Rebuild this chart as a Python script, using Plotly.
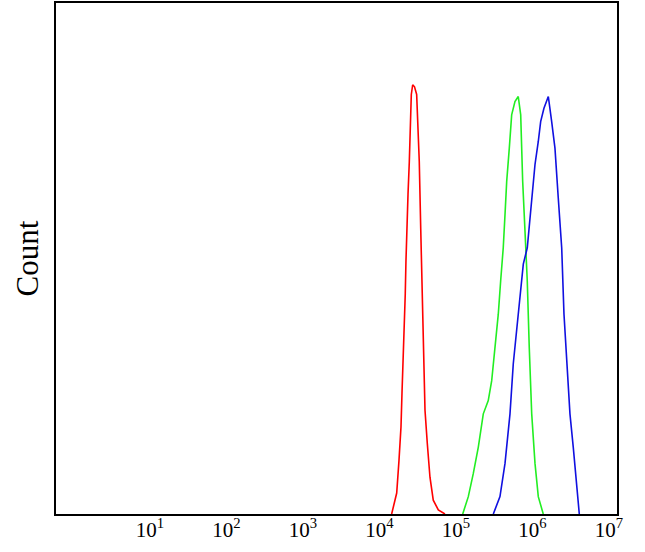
import plotly.graph_objects as go

# log10 fluorescence intensity and counts
red_log = [4.159, 4.225, 4.255, 4.281, 4.294, 4.311, 4.324, 4.337, 4.346, 4.356, 4.373, 4.390, 4.399,
           4.416, 4.434, 4.458, 4.486, 4.520, 4.539, 4.556, 4.573, 4.595, 4.625, 4.660, 4.703, 4.769, 4.856]
red_count = [0, 4.1, 10.5, 17.0, 23.6, 30.0, 36.5, 43.1, 49.5, 55.9, 62.6, 69.0, 75.4,
             82.1, 84.0, 83.6, 82.1, 69.0, 55.9, 43.1, 30.0, 20.3, 13.8, 7.2, 2.7, 0.8, 0]

green_log = [5.088, 5.161, 5.226, 5.292, 5.357, 5.422, 5.467, 5.510, 5.553, 5.584, 5.618, 5.641, 5.663,
             5.697, 5.728, 5.771, 5.814, 5.846, 5.872, 5.902, 5.932, 5.958, 5.990, 6.033, 6.076, 6.141]
green_count = [0, 3.4, 7.9, 13.1, 19.6, 22.2, 26.1, 32.6, 39.1, 45.6, 52.1, 58.6, 65.1,
               71.6, 78.1, 80.7, 81.7, 78.1, 65.1, 55.4, 45.6, 32.6, 19.6, 9.9, 3.4, 0]

blue_log = [5.488, 5.575, 5.641, 5.706, 5.749, 5.793, 5.837, 5.880, 5.932, 5.990, 6.033, 6.076, 6.107,
            6.150, 6.207, 6.251, 6.294, 6.337, 6.382, 6.412, 6.447, 6.490, 6.533, 6.569, 6.612]
blue_count = [0, 3.4, 9.9, 19.6, 29.4, 35.9, 42.4, 48.9, 52.1, 61.9, 68.4, 72.9, 76.8,
              79.4, 81.7, 76.8, 71.6, 61.9, 52.1, 39.1, 29.4, 19.6, 13.1, 6.6, 0]

tick_vals = [10, 100, 1000, 10000, 100000, 1000000, 10000000]
tick_text = ["10<sup>1</sup>", "10<sup>2</sup>", "10<sup>3</sup>", "10<sup>4</sup>",
             "10<sup>5</sup>", "10<sup>6</sup>", "10<sup>7</sup>"]

fig = go.Figure()
for lg, cnt, col in [(red_log, red_count, "#ff0000"),
                     (green_log, green_count, "#22ee22"),
                     (blue_log, blue_count, "#1010e0")]:
    fig.add_trace(go.Scatter(x=[10 ** v for v in lg], y=cnt, mode="lines",
                             line=dict(color=col, width=1.6), showlegend=False,
                             hoverinfo="skip"))

fig.update_layout(
    width=645, height=552,
    margin=dict(l=56, r=28, t=1, b=38),
    paper_bgcolor="white", plot_bgcolor="white",
    font=dict(family="Liberation Serif, DejaVu Serif, serif", color="black"),
)
fig.update_xaxes(type="log", range=[-0.229, 7.105], tickvals=tick_vals, ticktext=tick_text,
                 showgrid=False, zeroline=False, showline=True, mirror=True,
                 linecolor="black", linewidth=2, ticks="", tickfont=dict(size=21),
                 ticklabelstandoff=-4)
fig.update_yaxes(range=[0, 100], showgrid=False, zeroline=False, showline=True, mirror=True,
                 linecolor="black", linewidth=2, ticks="", showticklabels=False,
                 title=dict(text="Count", font=dict(size=31), standoff=6))

fig.write_html("out.html", config={"displayModeBar": False},
               post_script="document.body.style.margin='0';document.body.style.padding='0';")
